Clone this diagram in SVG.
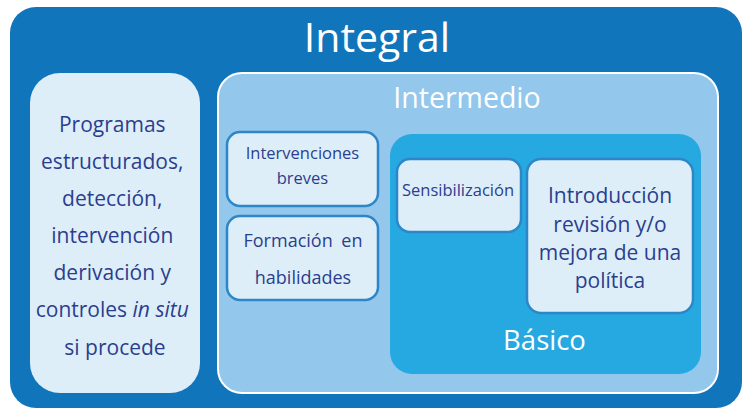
<svg xmlns="http://www.w3.org/2000/svg" width="749" height="411" viewBox="0 0 749 411">
<style>
.t{font-family:"Open Sans","Noto Sans",sans-serif;text-anchor:middle}
.w{fill:#ffffff}
.n{fill:#2B3E8E}
.box{fill:#DEEEF9;stroke:#2C86C7;stroke-width:2.5}
</style>
<rect width="749" height="411" fill="#ffffff"/>
<g id="integral">
<rect x="10" y="7" width="732" height="401" rx="26" fill="#1175BC"/>
<text class="t w" x="377" y="52" font-size="41">Integral</text>
</g>
<g id="programas">
<rect x="30" y="73" width="170" height="320" rx="30" fill="#DEEEF9"/>
<text class="t n" x="115" font-size="21">
<tspan x="115" y="132">Programas</tspan>
<tspan x="115" y="169">estructurados,</tspan>
<tspan x="115" y="206">detección,</tspan>
<tspan x="115" y="243">intervención</tspan>
<tspan x="115" y="280">derivación y</tspan>
<tspan x="115" y="317">controles <tspan font-style="italic">in situ</tspan></tspan>
<tspan x="115" y="355">si procede</tspan>
</text>
</g>
<g id="intermedio">
<rect x="218" y="73" width="500" height="320" rx="24" fill="#93C7EC" stroke="#ffffff" stroke-width="2"/>
<text class="t w" x="467" y="108" font-size="28.5">Intermedio</text>
</g>
<g id="intervenciones">
<rect class="box" x="227" y="132" width="151" height="74" rx="13"/>
<text class="t n" font-size="16.5"><tspan x="302.5" y="159">Intervenciones</tspan><tspan x="302.5" y="184">breves</tspan></text>
</g>
<g id="formacion">
<rect class="box" x="227" y="216" width="151" height="84" rx="13"/>
<text class="t n" font-size="18" word-spacing="4"><tspan x="303" y="247">Formación en</tspan><tspan x="303" y="284">habilidades</tspan></text>
</g>
<g id="basico">
<rect x="390" y="134" width="311" height="240" rx="22" fill="#26A9E0"/>
<text class="t w" x="544.5" y="350" font-size="27.5">Básico</text>
</g>
<g id="sensibilizacion">
<rect class="box" x="397" y="159" width="124" height="73" rx="13"/>
<text class="t n" x="458" y="196" font-size="16.5">Sensibilización</text>
</g>
<g id="introduccion">
<rect class="box" x="527" y="159" width="166" height="154" rx="14"/>
<text class="t n" font-size="21"><tspan x="610" y="203">Introducción</tspan><tspan x="610" y="232">revisión y/o</tspan><tspan x="610" y="260">mejora de una</tspan><tspan x="610" y="288">política</tspan></text>
</g>
<g id="connectors"></g>
</svg>
